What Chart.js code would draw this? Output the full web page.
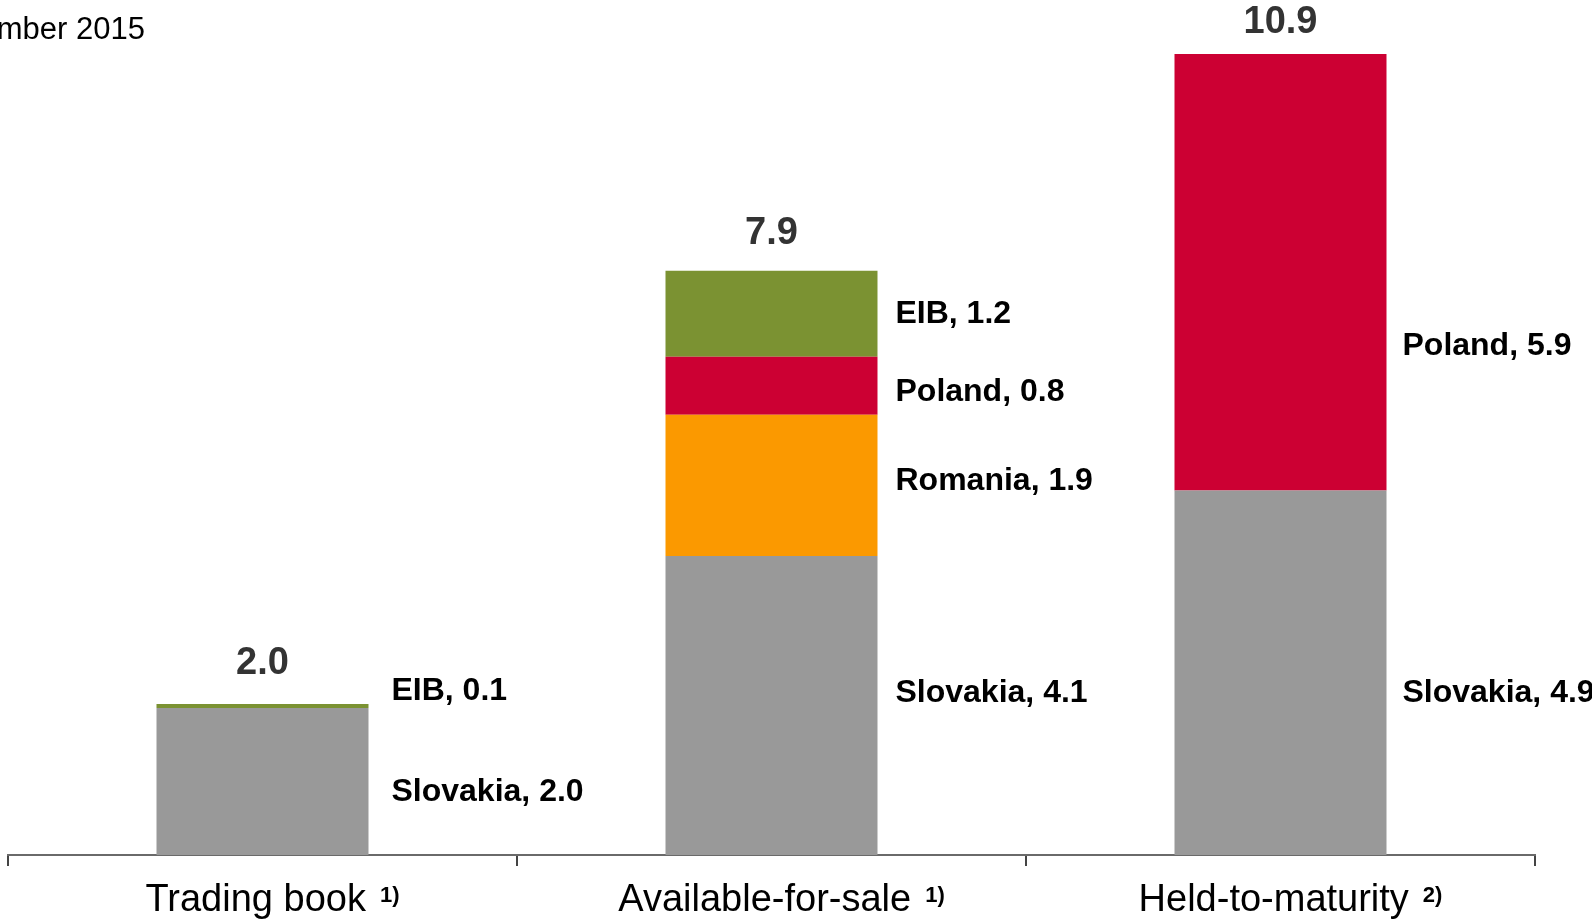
<!DOCTYPE html>
<html><head><meta charset="utf-8">
<script src="https://cdn.jsdelivr.net/npm/chart.js@4/dist/chart.umd.min.js"></script>
<style>html,body{margin:0;padding:0;background:#fff;overflow:hidden}</style>
</head><body>
<canvas id="c" width="1592" height="922"></canvas>
<script>
// ---- data ----
const categories = ['Trading book', 'Available-for-sale', 'Held-to-maturity'];
const footnotes = ['1)', '1)', '2)'];
const seriesNames = ['Slovakia', 'Romania', 'Poland', 'EIB'];
const slovakia = [2.0, 4.07, 4.96];
const romania = [0, 1.92, 0];
const poland = [0, 0.79, 5.94];
const eib = [0.055, 1.17, 0];
const slovakiaLabels = ['2.0', '4.1', '4.9'];
const romaniaLabels = [null, '1.9', null];
const polandLabels = [null, '0.8', '5.9'];
const eibLabels = ['0.1', '1.2', null];
const totalLabels = ['2.0', '7.9', '10.9'];
const titleText = 'December 2015';

// ---- styles ----
const FONT = '"Liberation Sans", Arial, sans-serif';
const colors = ['#999999', '#FB9900', '#CC0033', '#7B9232'];

const labelPlugin = {
  id: 'segLabels',
  afterDraw(chart, args, opts) {
    const ctx = chart.ctx;
    const ys = chart.scales.y, xs = chart.scales.x;
    ctx.save();
    // segment labels
    chart.data.datasets.forEach((ds, di) => {
      const meta = chart.getDatasetMeta(di);
      meta.data.forEach((bar, i) => {
        const txt = ds.valueLabels[i];
        if (!txt) return;
        const p = bar.getProps(['x', 'y', 'base', 'width'], true);
        const cy = (p.y + p.base) / 2 + opts.segOffsets[di][i] + 2.5;
        ctx.font = 'bold 32px ' + FONT;
        ctx.fillStyle = '#000';
        ctx.textAlign = 'left';
        ctx.textBaseline = 'middle';
        ctx.fillText(ds.label + ', ' + txt, p.x + p.width / 2 + opts.labelGap[i], cy);
      });
    });
    // totals
    categories.forEach((c, i) => {
      let sum = 0;
      chart.data.datasets.forEach(ds => { sum += ds.data[i]; });
      const top = ys.getPixelForValue(sum);
      ctx.font = 'bold 38px ' + FONT;
      ctx.fillStyle = '#333333';
      ctx.textAlign = 'center';
      ctx.textBaseline = 'middle';
      ctx.fillText(totalLabels[i], xs.getPixelForValue(i), top + opts.totalOffsets[i] + 2);
    });
    // category labels with footnote
    categories.forEach((c, i) => {
      ctx.font = '38px ' + FONT;
      const w1 = ctx.measureText(c).width;
      ctx.font = 'bold 22px ' + FONT;
      const w2 = ctx.measureText(footnotes[i]).width;
      const gap = 14;
      const total = w1 + gap + w2;
      const start = xs.getPixelForValue(i) + opts.catShift - total / 2;
      ctx.fillStyle = '#000';
      ctx.textAlign = 'left';
      ctx.textBaseline = 'alphabetic';
      ctx.font = '38px ' + FONT;
      ctx.fillText(c, start, 911);
      ctx.font = 'bold 22px ' + FONT;
      ctx.fillText(footnotes[i], start + w1 + gap, 902);
    });
    // title (partly cut at left)
    ctx.font = '31px ' + FONT;
    ctx.fillStyle = '#000';
    ctx.textAlign = 'right';
    ctx.textBaseline = 'alphabetic';
    ctx.fillText(titleText, 145, 39);
    ctx.restore();
  }
};

new Chart(document.getElementById('c'), {
  type: 'bar',
  data: {
    labels: categories,
    datasets: [
      { label: seriesNames[0], data: slovakia, valueLabels: slovakiaLabels, backgroundColor: colors[0] },
      { label: seriesNames[1], data: romania, valueLabels: romaniaLabels, backgroundColor: colors[1] },
      { label: seriesNames[2], data: poland, valueLabels: polandLabels, backgroundColor: colors[2] },
      { label: seriesNames[3], data: eib, valueLabels: eibLabels, backgroundColor: colors[3] }
    ]
  },
  options: {
    responsive: false,
    devicePixelRatio: 1,
    animation: false,
    layout: { padding: { left: 8, right: 57, top: 10, bottom: 56 } },
    datasets: { bar: { categoryPercentage: 1, barPercentage: 0.4165, borderWidth: 0 } },
    scales: {
      x: {
        stacked: true,
        offset: true,
        grid: { display: true, offset: true, drawOnChartArea: false, drawTicks: true, tickLength: 11, color: '#444', lineWidth: 2 },
        border: { display: true, color: '#6a6a6a', width: 2 },
        ticks: { display: false }
      },
      y: { stacked: true, display: false, min: 0, max: 11.5 }
    },
    plugins: {
      legend: { display: false },
      tooltip: { enabled: false },
      segLabels: {
        segOffsets: [[8.5, -15, 17.7], [0, -7, 0], [0, 4, 71], [-17.6, -2.3, 0]],
        labelGap: [23, 18, 16],
        totalOffsets: [-42.6, -39.5, -34],
        catShift: 10
      }
    }
  },
  plugins: [labelPlugin]
});
</script>
</body></html>
